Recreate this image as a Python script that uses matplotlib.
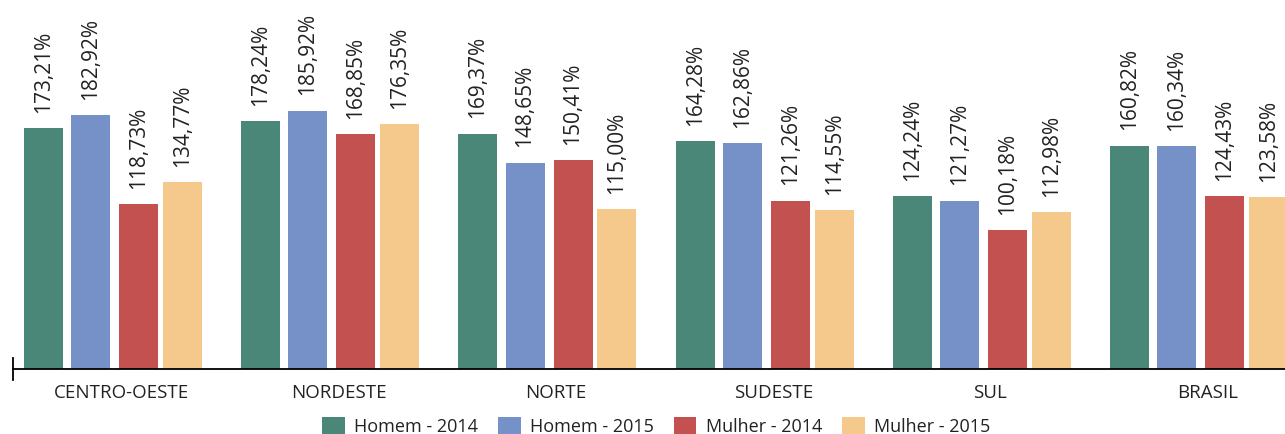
import matplotlib
matplotlib.use("Agg")
import matplotlib.pyplot as plt
from matplotlib.patches import Patch
import numpy as np

plt.rcParams['font.family'] = ['Open Sans', 'DejaVu Sans']

categories = ["CENTRO-OESTE", "NORDESTE", "NORTE", "SUDESTE", "SUL", "BRASIL"]
series_names = ["Homem - 2014", "Homem - 2015", "Mulher - 2014", "Mulher - 2015"]
homem_2014 = [173.21, 178.24, 169.37, 164.28, 124.24, 160.82]
homem_2015 = [182.92, 185.92, 148.65, 162.86, 121.27, 160.34]
mulher_2014 = [118.73, 168.85, 150.41, 121.26, 100.18, 124.43]
mulher_2015 = [134.77, 176.35, 115.00, 114.55, 112.98, 123.58]
series_values = [homem_2014, homem_2015, mulher_2014, mulher_2015]
colors = ["#4B8778", "#7690C8", "#C25150", "#F5C88C"]

W, H = 1285, 434
fig = plt.figure(figsize=(W / 100, H / 100), dpi=100)
ax_left, ax_bottom_px, ax_top_px = 13, 369, 0
ax = fig.add_axes([ax_left / W, (H - ax_bottom_px) / H, (W - ax_left) / W, (ax_bottom_px - ax_top_px) / H])

group_px = 217.2
offsets = np.array([-78, -31, 17, 61]) / group_px
bar_w = 39 / group_px
x = np.arange(len(categories))
text_color = "#222222"

for s, (vals, col) in enumerate(zip(series_values, colors)):
    bars = ax.bar(x + offsets[s], vals, width=bar_w, color=col, label=series_names[s], zorder=2)
    for b, v in zip(bars, vals):
        ax.annotate(f"{v:.2f}%".replace(".", ","),
                    xy=(b.get_x() + b.get_width() / 2, b.get_height()),
                    xytext=(0, 11), textcoords="offset points",
                    rotation=90, ha="center", va="bottom",
                    fontsize=15, color=text_color)

ax.set_xlim(-0.5, -0.5 + (W - ax_left) / group_px)
ax.set_ylim(0, ax_bottom_px / 1.389)

for sp in ["top", "right", "left"]:
    ax.spines[sp].set_visible(False)
ax.spines["bottom"].set_color("black")
ax.spines["bottom"].set_linewidth(1.3)
ax.set_yticks([])
ax.set_xticks(x)
ax.set_xticklabels(categories, fontsize=13.5, color=text_color)
ax.tick_params(axis="x", length=0, pad=11)
# small vertical tick at the left end of the axis
ax.plot([-0.5, -0.5], [-11 / 1.389, 11 / 1.389], color="black", lw=1.3, clip_on=False, zorder=3)

handles = [Patch(facecolor=c, edgecolor="none") for c in colors]
fig.legend(handles, series_names, loc="upper center", bbox_to_anchor=(656 / W, 1 - 408 / H),
           ncol=4, frameon=False, fontsize=13, borderpad=0, handlelength=1.27,
           handleheight=1.1, handletextpad=0.5, columnspacing=1.1, labelcolor=text_color)

fig.savefig("out.png", dpi=100)
